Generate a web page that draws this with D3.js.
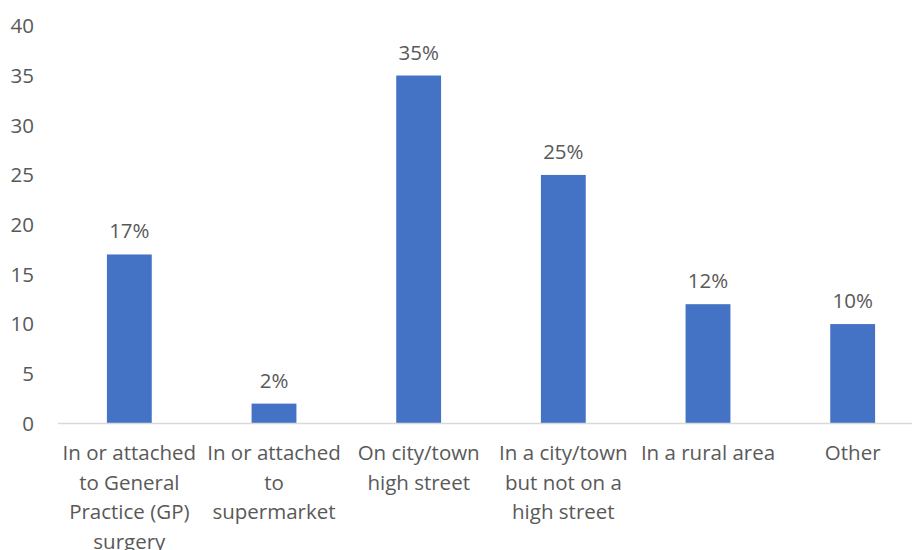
<!DOCTYPE html>
<html>
<head>
<meta charset="utf-8">
<script src="https://cdn.jsdelivr.net/npm/d3@7"></script>
<style>
  body { margin: 0; background: #fff; }
  text { font-family: "Open Sans", Lato, sans-serif; fill: #595959; }
</style>
</head>
<body>
<svg id="chart"></svg>
<script>
// data
const categories = [
  "In or attached to General Practice (GP) surgery",
  "In or attached to supermarket",
  "On city/town high street",
  "In a city/town but not on a high street",
  "In a rural area",
  "Other"
];
const labelLines = [
  ["In or attached", "to General", "Practice (GP)", "surgery"],
  ["In or attached", "to", "supermarket"],
  ["On city/town", "high street"],
  ["In a city/town", "but not on a", "high street"],
  ["In a rural area"],
  ["Other"]
];
const values = [17, 2, 35, 25, 12, 10];
const yTicks = [0, 5, 10, 15, 20, 25, 30, 35, 40];

const W = 912, H = 550;
const fontSize = "20.5px";
const svg = d3.select("#chart").attr("width", W).attr("height", H);

const x = d3.scaleBand()
  .domain(categories)
  .range([57, 925])
  .paddingInner(0.69)
  .paddingOuter(0.345);

const y = d3.scaleLinear()
  .domain([0, 40])
  .range([423.5, 25.8]);

// y axis labels
svg.append("g")
  .selectAll("text")
  .data(yTicks)
  .enter().append("text")
  .attr("x", 34)
  .attr("y", d => y(d))
  .attr("dy", "0.36em")
  .attr("text-anchor", "end")
  .style("font-size", fontSize)
  .text(d => d);

// bars
svg.append("g")
  .selectAll("rect")
  .data(values)
  .enter().append("rect")
  .attr("x", (d, i) => x(categories[i]))
  .attr("y", d => y(d))
  .attr("width", x.bandwidth())
  .attr("height", d => y(0) - y(d))
  .attr("fill", "#4472C4");

// baseline
svg.append("line")
  .attr("x1", 58).attr("x2", W)
  .attr("y1", y(0)).attr("y2", y(0))
  .attr("stroke", "#d9d9d9")
  .attr("stroke-width", 1.3);

// value labels
svg.append("g")
  .selectAll("text")
  .data(values)
  .enter().append("text")
  .attr("x", (d, i) => x(categories[i]) + x.bandwidth() / 2)
  .attr("y", d => y(d) - 16)
  .attr("text-anchor", "middle")
  .style("font-size", fontSize)
  .text(d => d + "%");

// category labels
const cat = svg.append("g")
  .selectAll("text")
  .data(labelLines)
  .enter().append("text")
  .attr("text-anchor", "middle")
  .style("font-size", fontSize)
  .attr("transform", (d, i) => "translate(" + (x(categories[i]) + x.bandwidth() / 2) + ",460)");

cat.selectAll("tspan")
  .data(d => d)
  .enter().append("tspan")
  .attr("x", 0)
  .attr("dy", (d, j) => j === 0 ? 0 : 29.7)
  .text(d => d);
</script>
</body>
</html>
